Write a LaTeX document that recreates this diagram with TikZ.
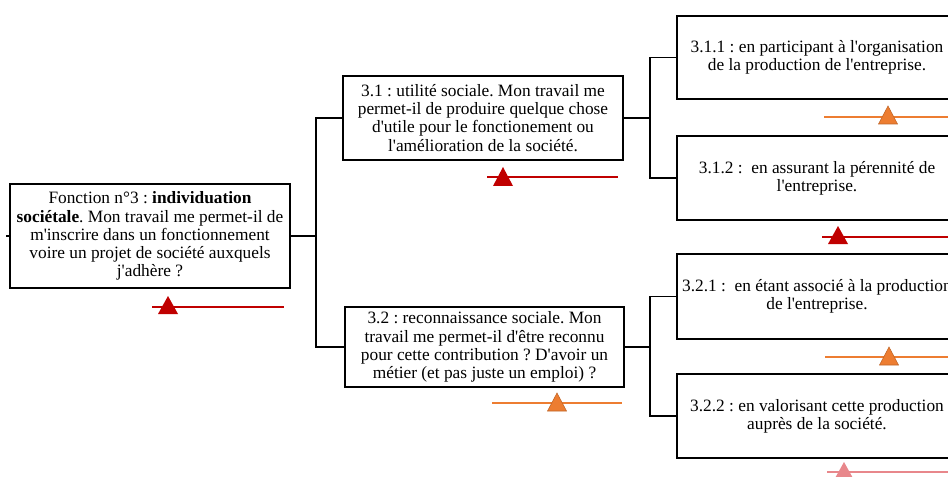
\documentclass[tikz,border=0pt]{standalone}
\usepackage{fontspec}
\setmainfont{Liberation Serif}[Ligatures=TeXOff]
\definecolor{cred}{HTML}{C00000}
\definecolor{corange}{HTML}{ED7D31}
\definecolor{cpink}{HTML}{E8878B}
\tikzset{
  box/.style={draw=black, line width=1.4pt, fill=white, align=center, inner sep=1pt,
    minimum width=210pt, font=\fontsize{13pt}{13.6pt}\selectfont\frenchspacing},
  conn/.style={draw=black, line width=1pt},
  mline/.style={line width=1.6pt},
}
\begin{document}
\begin{tikzpicture}[x=0.75pt,y=-0.75pt]
\useasboundingbox (0,0) rectangle (948,477);
\clip (0,0) rectangle (948,477);
% boxes
\node[box, minimum height=78pt] (main) at (150,236) {Fonction n°3 : \textbf{individuation}\\\textbf{sociétale}. Mon travail me permet-il de\\m'inscrire dans un fonctionnement\\voire un projet de société auxquels\\j'adhère ?};
\node[box, minimum height=63pt] (b31) at (483,118) {3.1 : utilité sociale. Mon travail me\\permet-il de produire quelque chose\\d'utile pour le fonctionement ou\\l'amélioration de la société.};
\node[box, minimum height=60pt, minimum width=209pt] (b32) at (484.5,347) {3.2 : reconnaissance sociale. Mon\\travail me permet-il d'être reconnu\\pour cette contribution ? D'avoir un\\métier (et pas juste un emploi) ?};
\node[box, minimum height=62.25pt] (b311) at (817,57.5) {3.1.1 : en participant à l'organisation\\de la production de l'entreprise.};
\node[box, minimum height=63pt] (b312) at (817,178) {3.1.2 :\ \ en assurant la pérennité de\\l'entreprise.};
\node[box, minimum height=63.75pt] (b321) at (817,296.5) {3.2.1 :\ \ en étant associé à la production\\de l'entreprise.};
\node[box, minimum height=63pt] (b322) at (817,416) {3.2.2 : en valorisant cette production\\auprès de la société.};
% connectors
\coordinate (lstub) at (6,236);
\coordinate (j1) at (316,236);
\coordinate (j2) at (650,118);
\coordinate (j3) at (650,347);
\draw[conn] (main.west) -- (lstub);
\draw[conn] (main.east) -- (j1);
\draw[conn] (j1) |- (b31.west);
\draw[conn] (j1) |- (b32.west);
\draw[conn] (b31.east) -- (j2);
\draw[conn] (j2) |- (b311.west);
\draw[conn] (j2) |- (b312.west);
\draw[conn] (b32.east) -- (j3);
\draw[conn] (j3) |- (b321.west);
\draw[conn] (j3) |- (b322.west);
% markers
\draw[mline, cred] (152,307) -- (284,307);
\fill[cred] (158,314) -- (168,296) -- (178,314) -- cycle;
\draw[mline, cred] (487,177) -- (618,177);
\fill[cred] (493,186) -- (503,167) -- (513,186) -- cycle;
\draw[mline, corange] (492,403) -- (622,403);
\filldraw[corange, draw=corange!80!black, line width=0.4pt] (547.5,411) -- (557,393) -- (566.5,411) -- cycle;
\draw[mline, corange] (824,117) -- (960,117);
\filldraw[corange, draw=corange!80!black, line width=0.4pt] (878.5,124) -- (888,106) -- (897.5,124) -- cycle;
\draw[mline, cred] (822,237) -- (960,237);
\fill[cred] (828,244) -- (838,226) -- (848,244) -- cycle;
\draw[mline, corange] (825,357) -- (960,357);
\filldraw[corange, draw=corange!80!black, line width=0.4pt] (879.5,365) -- (889,347) -- (898.5,365) -- cycle;
\draw[mline, cpink] (827,472) -- (960,472);
\fill[cpink] (834,480) -- (844,462) -- (854,480) -- cycle;
\end{tikzpicture}
\end{document}
